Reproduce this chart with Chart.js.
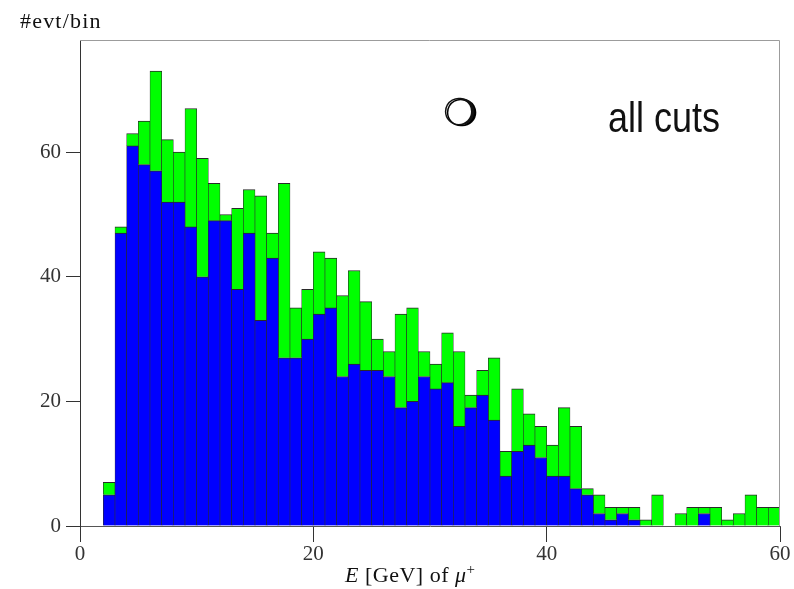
<!DOCTYPE html>
<html>
<head>
<meta charset="utf-8">
<script src="https://cdn.jsdelivr.net/npm/chart.js@4/dist/chart.umd.min.js"></script>
<style>
  body { margin: 0; background: #fff; }
  #wrap { position: relative; width: 794px; height: 589px; }
  #plot { position: absolute; left: 0; top: 0; }
  .txt { position: absolute; white-space: nowrap; color: #111; line-height: 1; }
  .serif { font-family: 'Liberation Serif', serif; }
  #ylab { left: 20px; top: 10px; font-size: 22px; letter-spacing: 1.2px; }
  #xlab { left: 345px; top: 564px; font-size: 22px; letter-spacing: 0.5px; }
  #xlab sup { font-size: 15px; vertical-align: 8px; line-height: 0; }
  #mark { left: 443px; top: 94px; font-family: 'DejaVu Sans', sans-serif; font-size: 37px;
          text-shadow: 2px 1px 0 #000; }
  #cuts { left: 608px; top: 97px; font-family: 'Liberation Sans', Arial, sans-serif; font-size: 36px;
          transform: scaleY(1.18); transform-origin: left top; }
</style>
</head>
<body>
<div id="wrap">
  <canvas id="plot" width="794" height="589"></canvas>
  <div class="txt serif" id="ylab">#evt/bin</div>
  <div class="txt serif" id="xlab"><i>E</i> [GeV] of <i>μ</i><sup>+</sup></div>
  <div class="txt" id="mark">❍</div>
  <div class="txt" id="cuts">all cuts</div>
</div>
<script>
// lower edge of each 1 GeV bin
const binLow = [2, 3, 4, 5, 6, 7, 8, 9, 10, 11, 12, 13, 14, 15, 16, 17, 18, 19, 20,
  21, 22, 23, 24, 25, 26, 27, 28, 29, 30, 31, 32, 33, 34, 35, 36, 37, 38, 39, 40,
  41, 42, 43, 44, 45, 46, 47, 48, 49, 50, 51, 52, 53, 54, 55, 56, 57, 58, 59];

// blue part of each bin
const blueCounts = [5, 47, 61, 58, 57, 52, 52, 48, 40, 49, 49, 38, 47, 33, 43, 27, 27, 30, 34,
  35, 24, 26, 25, 25, 24, 19, 20, 24, 22, 23, 16, 19, 21, 17, 8, 12, 13, 11, 8,
  8, 6, 5, 2, 1, 2, 1, 0, 0, 0, 0, 0, 2, 0, 0, 0, 0, 0, 0];

// full height of each bin (blue + green)
const totalCounts = [7, 48, 63, 65, 73, 62, 60, 67, 59, 55, 50, 51, 54, 53, 47, 55, 35, 38, 44,
  43, 37, 41, 36, 30, 28, 34, 35, 28, 26, 31, 28, 21, 25, 27, 12, 22, 18, 16, 13,
  19, 16, 6, 5, 3, 3, 3, 1, 5, 0, 2, 3, 3, 3, 1, 2, 5, 3, 3];

const xTicks = [0, 20, 40, 60];
const yTicks = [0, 20, 40, 60];

const tickFont = { family: 'Liberation Serif', size: 21 };

function points(values) {
  return binLow.map((low, i) => ({ x: low + 0.5, y: values[i] }));
}

const greenCounts = totalCounts.map((t, i) => t - blueCounts[i]);

// light grey top and right edges of the frame
const framePlugin = {
  id: 'frame',
  afterDraw(chart) {
    const { ctx, chartArea: a } = chart;
    ctx.save();
    ctx.strokeStyle = '#9c9c9c';
    ctx.lineWidth = 1;
    ctx.beginPath();
    ctx.moveTo(a.left, a.top + 0.5);
    ctx.lineTo(a.right - 0.5, a.top + 0.5);
    ctx.lineTo(a.right - 0.5, a.bottom);
    ctx.stroke();
    ctx.restore();
  }
};

const barStyle = {
  borderColor: '#2a2a2a',
  borderWidth: { top: 1, left: 0.6, right: 0.6, bottom: 0 },
  barPercentage: 1,
  categoryPercentage: 1
};

new Chart(document.getElementById('plot'), {
  type: 'bar',
  data: {
    datasets: [
      { label: 'blue', data: points(blueCounts), backgroundColor: '#0000ff', ...barStyle },
      { label: 'green', data: points(greenCounts), backgroundColor: '#00ff00', ...barStyle }
    ]
  },
  plugins: [framePlugin],
  options: {
    responsive: false,
    animation: false,
    layout: { padding: { top: 40, right: 14, left: 0, bottom: 0 } },
    plugins: {
      legend: { display: false },
      tooltip: { enabled: false }
    },
    scales: {
      x: {
        type: 'linear',
        stacked: true,
        offset: false,
        min: 0,
        max: 60,
        afterBuildTicks: (scale) => { scale.ticks = xTicks.map((v) => ({ value: v })); },
        afterFit: (scale) => { scale.height = 63; },
        ticks: { font: tickFont, color: '#333', padding: 0, maxRotation: 0 },
        grid: { offset: false, drawOnChartArea: false, color: '#333', tickLength: 16 },
        border: { color: '#555', width: 1 }
      },
      y: {
        stacked: true,
        min: 0,
        max: 78,
        afterBuildTicks: (scale) => { scale.ticks = yTicks.map((v) => ({ value: v })); },
        afterFit: (scale) => { scale.width = 80; },
        ticks: { font: tickFont, color: '#333', padding: 5 },
        grid: { drawOnChartArea: false, color: '#333', tickLength: 14 },
        border: { color: '#333', width: 1 }
      }
    }
  }
});
</script>
</body>
</html>
